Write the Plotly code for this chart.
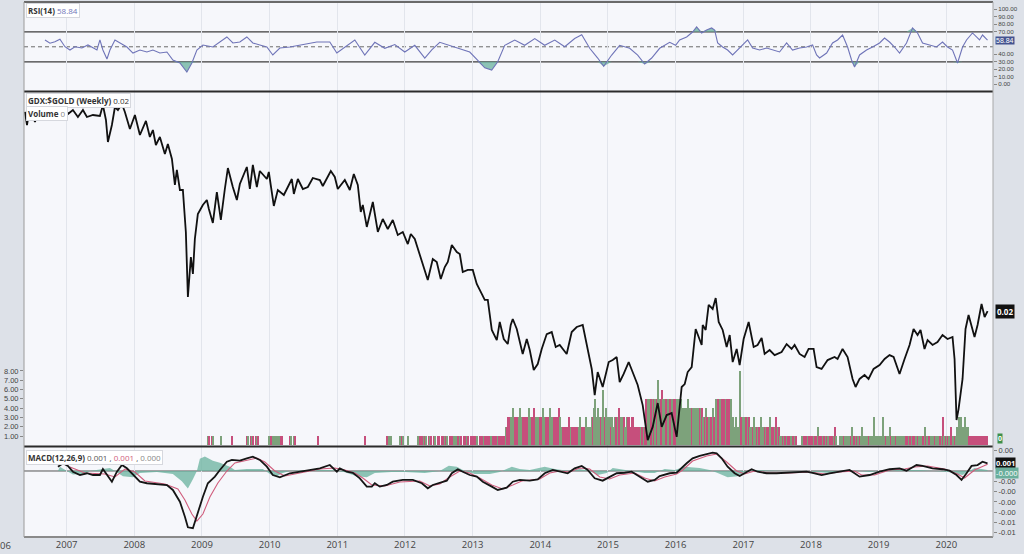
import numpy as np
import plotly.graph_objects as go

# ---------------- data ----------------
PRICE_T = [2006.384, 2006.414, 2006.458, 2006.532, 2006.606, 2006.709, 2006.798, 2006.946,
           2007.019, 2007.093, 2007.167, 2007.241, 2007.300, 2007.389, 2007.492, 2007.536,
           2007.581, 2007.610, 2007.669, 2007.714, 2007.758, 2007.817, 2007.861, 2007.935,
           2008.009, 2008.083, 2008.172, 2008.230, 2008.275, 2008.319, 2008.378, 2008.452,
           2008.496, 2008.556, 2008.600, 2008.629, 2008.674, 2008.718, 2008.762, 2008.792,
           2008.836, 2008.866, 2008.895, 2008.939, 2009.013, 2009.072, 2009.102, 2009.161,
           2009.220, 2009.279, 2009.338, 2009.383, 2009.456, 2009.516, 2009.560, 2009.663,
           2009.708, 2009.752, 2009.811, 2009.855, 2009.959, 2009.988, 2010.062, 2010.121,
           2010.210, 2010.269, 2010.328, 2010.358, 2010.417, 2010.491, 2010.565, 2010.638,
           2010.742, 2010.786, 2010.904, 2010.963, 2011.007, 2011.111, 2011.185, 2011.244,
           2011.303, 2011.347, 2011.377, 2011.436, 2011.525, 2011.599, 2011.672, 2011.746,
           2011.820, 2011.894, 2011.968, 2012.042, 2012.086, 2012.145, 2012.219, 2012.263,
           2012.337, 2012.411, 2012.470, 2012.529, 2012.588, 2012.633, 2012.692, 2012.766,
           2012.810, 2012.854, 2012.928, 2013.002, 2013.061, 2013.135, 2013.179, 2013.224,
           2013.283, 2013.357, 2013.401, 2013.460, 2013.519, 2013.563, 2013.593, 2013.652,
           2013.696, 2013.740, 2013.800, 2013.844, 2013.903, 2013.962, 2014.021, 2014.095,
           2014.169, 2014.228, 2014.287, 2014.390, 2014.464, 2014.538, 2014.627, 2014.686,
           2014.760, 2014.804, 2014.848, 2014.922, 2015.011, 2015.070, 2015.129, 2015.173,
           2015.232, 2015.306, 2015.351, 2015.439, 2015.513, 2015.587, 2015.661, 2015.735,
           2015.794, 2015.868, 2015.941, 2016.015, 2016.089, 2016.134, 2016.178, 2016.237,
           2016.296, 2016.385, 2016.400, 2016.444, 2016.488, 2016.547, 2016.592, 2016.636,
           2016.695, 2016.754, 2016.799, 2016.843, 2016.902, 2016.946, 2017.005, 2017.079,
           2017.153, 2017.211, 2017.271, 2017.315, 2017.389, 2017.463, 2017.566, 2017.640,
           2017.714, 2017.758, 2017.832, 2017.906, 2017.965, 2018.039, 2018.083, 2018.157,
           2018.246, 2018.349, 2018.393, 2018.467, 2018.541, 2018.615, 2018.659, 2018.718,
           2018.792, 2018.851, 2018.925, 2019.014, 2019.088, 2019.161, 2019.221, 2019.309,
           2019.383, 2019.457, 2019.516, 2019.575, 2019.619, 2019.678, 2019.723, 2019.797,
           2019.870, 2019.944, 2020.018, 2020.092, 2020.122, 2020.151, 2020.181, 2020.240,
           2020.284, 2020.329, 2020.417, 2020.462, 2020.521, 2020.566, 2020.610]
PRICE_V = [0.04814, 0.04549, 0.04919, 0.04609, 0.04919, 0.04710, 0.04919, 0.04984,
           0.04772, 0.04856, 0.04710, 0.04856, 0.04710, 0.04751, 0.04730, 0.04962,
           0.04649, 0.04225, 0.04549, 0.04919, 0.04856, 0.04984, 0.04814, 0.04470,
           0.04751, 0.04355, 0.04629, 0.04318, 0.04451, 0.04170, 0.04318, 0.04010,
           0.04188, 0.03924, 0.03505, 0.03741, 0.03429, 0.03429, 0.02857, 0.02153,
           0.02562, 0.02380, 0.02771, 0.03089, 0.03213, 0.03283, 0.03157, 0.02971,
           0.03399, 0.03010, 0.03444, 0.03773, 0.03474, 0.03283, 0.03520, 0.03790,
           0.03444, 0.03823, 0.03474, 0.03724, 0.03597, 0.03708, 0.03199, 0.03429,
           0.03355, 0.03474, 0.03597, 0.03370, 0.03597, 0.03444, 0.03474, 0.03613,
           0.03581, 0.03489, 0.03724, 0.03629, 0.03444, 0.03581, 0.03429, 0.03676,
           0.03505, 0.03116, 0.03213, 0.02920, 0.03255, 0.02857, 0.03023, 0.02894,
           0.03010, 0.02820, 0.02857, 0.02711, 0.02832, 0.02771, 0.02585, 0.02486,
           0.02319, 0.02540, 0.02507, 0.02329, 0.02453, 0.02507, 0.02700, 0.02619,
           0.02596, 0.02401, 0.02422, 0.02422, 0.02279, 0.02182, 0.02126, 0.02126,
           0.01866, 0.01786, 0.01932, 0.01794, 0.01755, 0.01907, 0.01957, 0.01874,
           0.01786, 0.01681, 0.01794, 0.01710, 0.01568, 0.01609, 0.01718, 0.01833,
           0.01849, 0.01733, 0.01748, 0.01681, 0.01849, 0.01890, 0.01907, 0.01748,
           0.01575, 0.01406, 0.01554, 0.01456, 0.01623, 0.01637, 0.01659, 0.01488,
           0.01541, 0.01623, 0.01568, 0.01469, 0.01346, 0.01156, 0.01224, 0.01358,
           0.01224, 0.01289, 0.01300, 0.01172, 0.01456, 0.01475, 0.01554, 0.01588,
           0.01874, 0.01748, 0.01907, 0.01866, 0.02080, 0.02044, 0.02144, 0.01932,
           0.01866, 0.01733, 0.01825, 0.01623, 0.01718, 0.01602, 0.01794, 0.01932,
           0.01733, 0.01748, 0.01802, 0.01681, 0.01710, 0.01673, 0.01695, 0.01755,
           0.01718, 0.01748, 0.01681, 0.01659, 0.01718, 0.01718, 0.01588, 0.01575,
           0.01637, 0.01659, 0.01645, 0.01718, 0.01659, 0.01508, 0.01456, 0.01508,
           0.01534, 0.01508, 0.01575, 0.01602, 0.01645, 0.01673, 0.01659, 0.01541,
           0.01645, 0.01748, 0.01874, 0.01825, 0.01866, 0.01718, 0.01786, 0.01748,
           0.01771, 0.01825, 0.01794, 0.01810, 0.01645, 0.01261, 0.01323, 0.01508,
           0.01874, 0.01991, 0.01810, 0.01907, 0.02089, 0.01974, 0.02026]

RSI_T = [2006.680, 2006.754, 2006.827, 2006.901, 2006.975, 2007.049, 2007.123, 2007.226,
         2007.315, 2007.448, 2007.492, 2007.536, 2007.596, 2007.640, 2007.714, 2007.788,
         2007.891, 2007.980, 2008.083, 2008.186, 2008.275, 2008.378, 2008.482, 2008.570,
         2008.674, 2008.777, 2008.851, 2008.925, 2009.014, 2009.161, 2009.265, 2009.368,
         2009.457, 2009.560, 2009.663, 2009.752, 2009.855, 2009.959, 2010.047, 2010.151,
         2010.299, 2010.446, 2010.594, 2010.697, 2010.786, 2010.889, 2010.993, 2011.111,
         2011.259, 2011.406, 2011.554, 2011.702, 2011.850, 2011.997, 2012.145, 2012.293,
         2012.396, 2012.514, 2012.662, 2012.810, 2012.957, 2013.076, 2013.179, 2013.282,
         2013.371, 2013.474, 2013.622, 2013.770, 2013.918, 2014.065, 2014.213, 2014.361,
         2014.508, 2014.612, 2014.730, 2014.848, 2014.937, 2015.055, 2015.173, 2015.321,
         2015.439, 2015.542, 2015.646, 2015.764, 2015.912, 2016.000, 2016.059, 2016.163,
         2016.251, 2016.310, 2016.384, 2016.458, 2016.532, 2016.576, 2016.621, 2016.694,
         2016.768, 2016.842, 2016.916, 2016.990, 2017.064, 2017.138, 2017.241, 2017.344,
         2017.433, 2017.536, 2017.640, 2017.728, 2017.832, 2017.935, 2018.024, 2018.083,
         2018.127, 2018.231, 2018.319, 2018.393, 2018.467, 2018.541, 2018.600, 2018.644,
         2018.718, 2018.821, 2018.910, 2019.014, 2019.087, 2019.161, 2019.235, 2019.309,
         2019.412, 2019.501, 2019.575, 2019.649, 2019.752, 2019.856, 2019.944, 2020.018,
         2020.092, 2020.166, 2020.240, 2020.299, 2020.387, 2020.491, 2020.535, 2020.609]
RSI_V = [59.1, 54.7, 56.8, 60.0, 50.1, 45.7, 50.1, 48.4,
         52.4, 45.7, 59.1, 45.7, 33.7, 45.7, 59.1, 55.1,
         49.7, 41.7, 45.7, 43.1, 45.7, 41.7, 43.1, 32.4,
         28.4, 16.4, 28.4, 45.7, 52.4, 49.7, 56.4, 63.1,
         55.1, 56.4, 63.1, 55.1, 52.4, 49.7, 39.1, 48.4,
         49.7, 52.4, 55.1, 56.4, 56.4, 56.4, 41.7, 49.7,
         59.0, 39.0, 56.0, 48.0, 53.0, 43.0, 52.0, 35.0,
         46.0, 56.0, 52.0, 48.0, 43.0, 32.0, 22.0, 19.0,
         30.0, 52.0, 59.0, 52.0, 61.0, 52.0, 59.0, 50.0,
         61.0, 66.0, 48.0, 35.0, 24.0, 39.0, 52.0, 48.0,
         39.0, 27.0, 35.0, 48.0, 56.0, 52.0, 59.1, 63.1,
         69.7, 76.4, 68.4, 72.4, 75.1, 72.4, 55.1, 49.7,
         45.7, 39.1, 45.7, 52.4, 59.1, 48.4, 45.7, 48.4,
         45.7, 43.1, 55.1, 45.7, 48.4, 49.7, 52.4, 39.1,
         35.1, 41.7, 55.1, 59.1, 65.7, 49.7, 32.4, 23.1,
         39.1, 45.7, 49.7, 55.1, 61.7, 56.4, 49.7, 41.7,
         55.1, 75.1, 68.4, 55.1, 52.4, 49.7, 56.4, 49.7,
         45.7, 28.4, 49.7, 59.1, 68.4, 59.1, 65.7, 58.84]

MACD_T = [2006.872, 2006.946, 2007.019, 2007.093, 2007.197, 2007.300, 2007.389, 2007.492,
          2007.536, 2007.596, 2007.669, 2007.743, 2007.817, 2007.891, 2007.980, 2008.083,
          2008.186, 2008.334, 2008.482, 2008.570, 2008.674, 2008.748, 2008.792, 2008.866,
          2008.940, 2009.014, 2009.087, 2009.191, 2009.265, 2009.368, 2009.442, 2009.560,
          2009.663, 2009.752, 2009.855, 2009.959, 2010.047, 2010.151, 2010.299, 2010.446,
          2010.594, 2010.742, 2010.889, 2010.993, 2011.037, 2011.141, 2011.229, 2011.333,
          2011.436, 2011.510, 2011.554, 2011.628, 2011.732, 2011.820, 2011.968, 2012.116,
          2012.249, 2012.337, 2012.411, 2012.514, 2012.618, 2012.692, 2012.781, 2012.854,
          2012.957, 2013.061, 2013.150, 2013.283, 2013.371, 2013.504, 2013.593, 2013.696,
          2013.844, 2013.962, 2014.065, 2014.184, 2014.317, 2014.405, 2014.508, 2014.612,
          2014.700, 2014.804, 2014.922, 2015.025, 2015.129, 2015.247, 2015.350, 2015.469,
          2015.587, 2015.690, 2015.764, 2015.912, 2016.015, 2016.163, 2016.251, 2016.355,
          2016.458, 2016.547, 2016.606, 2016.680, 2016.768, 2016.872, 2016.946, 2017.049,
          2017.123, 2017.211, 2017.344, 2017.492, 2017.640, 2017.787, 2017.935, 2018.054,
          2018.157, 2018.275, 2018.423, 2018.570, 2018.644, 2018.718, 2018.866, 2019.014,
          2019.161, 2019.309, 2019.412, 2019.560, 2019.649, 2019.797, 2019.944, 2020.048,
          2020.151, 2020.225, 2020.299, 2020.373, 2020.461, 2020.535, 2020.609]
MACD_V = [0.00042, 0.00075, 0.00049, -0.00007, -0.00039, -0.00022, -0.00039, -0.00039,
          0.00019, -0.00039, -0.00104, -0.00007, 0.00058, 0.00026, -0.00039, -0.00104,
          -0.00119, -0.00126, -0.00136, -0.00184, -0.00298, -0.00444, -0.00547, -0.00556,
          -0.00395, -0.00250, -0.00119, -0.00055, 0.00010, 0.00090, 0.00107, 0.00100,
          0.00123, 0.00139, 0.00107, 0.00042, -0.00039, -0.00061, -0.00022, -0.00007,
          0.00010, 0.00026, 0.00058, -0.00007, 0.00026, -0.00007, -0.00017, -0.00071,
          -0.00152, -0.00152, -0.00119, -0.00152, -0.00136, -0.00104, -0.00087, -0.00087,
          -0.00119, -0.00168, -0.00136, -0.00114, -0.00094, -0.00022, 0.00017, -0.00007,
          -0.00039, -0.00055, -0.00104, -0.00152, -0.00184, -0.00162, -0.00104, -0.00087,
          -0.00094, -0.00081, -0.00022, 0.00010, -0.00007, -0.00022, 0.00026, 0.00049,
          0.00010, -0.00071, -0.00094, -0.00055, -0.00022, -0.00017, -0.00007, -0.00055,
          -0.00104, -0.00087, -0.00049, -0.00022, -0.00017, 0.00075, 0.00123, 0.00146,
          0.00165, 0.00178, 0.00172, 0.00123, 0.00042, -0.00022, -0.00049, -0.00007,
          0.00017, -0.00007, -0.00022, -0.00022, -0.00017, -0.00007, -0.00007, -0.00022,
          -0.00039, -0.00022, -0.00007, 0.00010, -0.00022, -0.00055, -0.00039, -0.00007,
          0.00017, 0.00026, 0.00003, 0.00058, 0.00049, 0.00026, 0.00017, 0.00003,
          -0.00039, -0.00087, -0.00022, 0.00049, 0.00058, 0.00090, 0.00075]

SIGNAL_T = [2007.049, 2007.271, 2007.566, 2007.714, 2007.861, 2008.009, 2008.157, 2008.452,
            2008.644, 2008.748, 2008.851, 2008.925, 2009.014, 2009.117, 2009.235, 2009.368,
            2009.486, 2009.663, 2009.811, 2009.929, 2010.077, 2010.225, 2010.446, 2010.742,
            2010.963, 2011.111, 2011.259, 2011.377, 2011.510, 2011.702, 2011.923, 2012.219,
            2012.367, 2012.514, 2012.662, 2012.810, 2012.957, 2013.105, 2013.283, 2013.445,
            2013.593, 2013.726, 2013.992, 2014.139, 2014.287, 2014.434, 2014.582, 2014.730,
            2014.878, 2015.025, 2015.173, 2015.395, 2015.542, 2015.690, 2015.838, 2016.015,
            2016.104, 2016.251, 2016.458, 2016.606, 2016.754, 2016.902, 2017.020, 2017.167,
            2017.389, 2017.684, 2017.980, 2018.201, 2018.423, 2018.644, 2018.748, 2018.940,
            2019.161, 2019.383, 2019.531, 2019.723, 2019.974, 2020.166, 2020.270, 2020.417,
            2020.609]
SIGNAL_V = [0.00039, -0.00019, -0.00029, -0.00058, 0.00019, -0.00010, -0.00097, -0.00126,
            -0.00175, -0.00282, -0.00418, -0.00486, -0.00418, -0.00252, -0.00117, 0.00000,
            0.00078, 0.00107, 0.00126, 0.00087, 0.00000, -0.00049, -0.00019, 0.00019,
            0.00029, 0.00010, -0.00019, -0.00068, -0.00136, -0.00146, -0.00107, -0.00097,
            -0.00146, -0.00126, -0.00058, 0.00000, -0.00019, -0.00068, -0.00136, -0.00175,
            -0.00136, -0.00097, -0.00078, -0.00019, 0.00000, -0.00010, 0.00029, 0.00019,
            -0.00058, -0.00078, -0.00039, -0.00019, -0.00068, -0.00097, -0.00058, -0.00029,
            0.00010, 0.00097, 0.00146, 0.00165, 0.00087, 0.00000, -0.00029, 0.00000,
            -0.00019, -0.00019, -0.00010, -0.00029, -0.00010, 0.00000, -0.00039, -0.00039,
            0.00010, 0.00019, 0.00039, 0.00049, 0.00019, -0.00029, -0.00068, 0.00010,
            0.00065]

HIST_T = [2006.872, 2006.900, 2007.004, 2007.093, 2007.241, 2007.345, 2007.536, 2007.640,
          2007.714, 2007.832, 2007.980, 2008.083, 2008.334, 2008.570, 2008.703, 2008.792,
          2008.866, 2008.925, 2008.969, 2009.043, 2009.161, 2009.265, 2009.412, 2009.486,
          2009.663, 2009.900, 2010.003, 2010.106, 2010.195, 2010.299, 2010.600, 2010.900,
          2011.100, 2011.288, 2011.436, 2011.554, 2011.800, 2012.000, 2012.293, 2012.514,
          2012.648, 2012.766, 2012.884, 2013.031, 2013.253, 2013.401, 2013.578, 2013.696,
          2013.844, 2014.065, 2014.213, 2014.434, 2014.582, 2014.730, 2014.848, 2014.981,
          2015.070, 2015.173, 2015.350, 2015.542, 2015.690, 2015.838, 2015.986, 2016.133,
          2016.355, 2016.503, 2016.621, 2016.768, 2016.916, 2017.020, 2017.150, 2017.700,
          2018.054, 2018.275, 2018.570, 2018.870, 2019.161, 2019.600, 2020.030, 2020.166,
          2020.240, 2020.314, 2020.417, 2020.521, 2020.609]
HIST_V = [0.0, 0.0004, 0.0, -0.00034, -0.00029, 0.0, 0.0002, 0.0003,
          0.0, -0.0005, -0.0006, -0.0002, -0.0001, -0.0003, -0.0010, -0.0017,
          -0.0008, 0.0, 0.0012, 0.0014, 0.0010, 0.0008, 0.0004, 0.0001,
          0.0002, 0.0002, -0.0003, -0.0005, -0.0002, 0.0, 0.0001, 0.0001,
          -0.0001, -0.0005, -0.0006, -0.0002, -0.0001, -0.0001, -0.0002, 0.0,
          0.0005, 0.0004, 0.0, -0.0003, -0.0003, -0.0001, 0.0004, 0.0002,
          0.0001, 0.0004, 0.0002, 0.0, 0.0002, 0.0, -0.0004, -0.0002,
          0.0003, 0.0002, 0.0, -0.0002, -0.0002, 0.0002, 0.0001, 0.0004,
          0.0003, 0.0001, -0.0002, -0.0006, -0.0005, -0.0001, 0.0001, 0.0,
          -0.0001, -0.0002, 0.0001, -0.0001, 0.0001, 0.0001, -0.0001, -0.0003,
          -0.0004, -0.0001, 0.0003, 0.0002, 0.0001]

# weekly volume, one string per year (one digit per week), starting with 2009
VOLUME_WEEKS = {
    2009: "0000" "11011" "00000" "1" "00000000" "1" "0000000000" "1101110111" "0000000" "1",
    2010: "11101101110" "0000" "11011" "00000000000000000" "1" "00000000000000",
    2011: "000000000000000000000" "1" "0000000000000000" "1101" "000000" "111" "0",
    2012: "00" "1" "0000000" "1101111011101101101" "11110111101111101111011",
    2013: "1111011111111111111111111" "22" "3333433334333333433343333",
    2014: "3343333433333343" "22222232222222322223222" "3345343336343",
    2015: "332323334233323332332" "22222222" "55555555575565555555555",
    2016: "55555" "4444544444444444" "3343333433" "555555555555" "332322" "8" "33",
    2017: "33333" "22232222322222232222322" "1111111111111" "0000" "1111111",
    2018: "11111211111111111121" "00" "111111111211111112111111113111",
    2019: "111" "3" "1111" "2" "11111111111111111111111111" "2" "1111111111111" "3" "11",
    2020: "11121111" "232322322" "111111111111111",
}
# bar colour per week: p = pink (down), g = green (up)
VOLUME_COLOURS = {
    2009: "ppgpgpgpggpgppgpgppgpgppgpgpgpgppgpggpgpgpgpgpgppgpg",
    2010: "gpgpggpgppgpgpgpgggpgpgpgppgpgpgpgppgpgpgpgpgpgpgpgp",
    2011: "pgpgpgpgpgppgpgpgpgpgpgpgpgppgpgpgpgpgpgpgpgppgpgpgp",
    2012: "ppgpgppgppgpppgpgppgpppgpppgppgpgppppgpgppgppppgpgpp",
    2013: "pppgppppgpppppgppppgpppppgpppgggpppgggpppppggpppgggp",
    2014: "ppggpppgggpppppggppppppgpppppgggpppgggggpgggggpggpgg",
    2015: "ggpgggpgppggpggppppppppppgpgppgggpgpgpggppggppgppgpp",
    2016: "pgggggggggggpgggggpgpgpgpggpgppgppgpppgpppggggggggpg",
    2017: "ggpgpggpggpgpgggpgppggppgpgpggpgpgppggpgpgggpgpppgpp",
    2018: "ppgppgpppgpgpgpppgpgppgggpggggpggpgpgpggggggpgggggg",
    2019: "gggggpgggpgggpgggggggppgpgppggpgggpgpgppgggpgggpgpgp",
    2020: "gpgppgpggggggggggppppppppppppppp",
}

RSI_LAST, PRICE_LAST, MACD_LAST = "58.84", "0.02", "0.001"
YEARS = list(range(2007, 2021))

# ---------------- styles ----------------
FONT = "Open Sans, Noto Sans, sans-serif"
TICKFONT = "Liberation Sans, Arial, sans-serif"
PINK = "#c64f7c"
GREEN = "#7da27b"
TEAL = "rgba(104,178,158,0.75)"
RSI_COL = "#6f74b8"
OUTER = "#dde1e8"
INNER = "#f6f7fb"

vol_t, vol_v, vol_c = [], [], []
for yr in sorted(VOLUME_WEEKS):
    s = VOLUME_WEEKS[yr][:52]
    c = VOLUME_COLOURS[yr].ljust(len(s), "g")
    for i, ch in enumerate(s):
        if ch != "0":
            vol_t.append(yr + (i + 0.5) / 52)
            vol_v.append(int(ch))
            vol_c.append(PINK if c[i] == "p" else GREEN)

rsi = np.array(RSI_V)

fig = go.Figure()

# volume (base axis of the main panel)
fig.add_trace(go.Bar(x=vol_t, y=vol_v, width=1 / 52, marker=dict(color=vol_c, line=dict(width=0)),
                     xaxis="x", yaxis="y2", hoverinfo="skip"))
# price ratio (log axis overlaying the volume)
fig.add_trace(go.Scatter(x=PRICE_T, y=PRICE_V, mode="lines", line=dict(color="#111111", width=1.8),
                         xaxis="x", yaxis="y3"))

# RSI fills beyond 30 / 70
fig.add_trace(go.Scatter(x=RSI_T, y=[30] * len(RSI_T), mode="lines", line=dict(width=0),
                         xaxis="x", yaxis="y4", hoverinfo="skip"))
fig.add_trace(go.Scatter(x=RSI_T, y=np.minimum(rsi, 30), mode="lines", line=dict(width=0),
                         fill="tonexty", fillcolor=TEAL, xaxis="x", yaxis="y4", hoverinfo="skip"))
fig.add_trace(go.Scatter(x=RSI_T, y=[70] * len(RSI_T), mode="lines", line=dict(width=0),
                         xaxis="x", yaxis="y4", hoverinfo="skip"))
fig.add_trace(go.Scatter(x=RSI_T, y=np.maximum(rsi, 70), mode="lines", line=dict(width=0),
                         fill="tonexty", fillcolor=TEAL, xaxis="x", yaxis="y4", hoverinfo="skip"))
fig.add_trace(go.Scatter(x=RSI_T, y=RSI_V, mode="lines", line=dict(color=RSI_COL, width=1.1),
                         xaxis="x", yaxis="y4"))

# MACD
fig.add_trace(go.Scatter(x=HIST_T, y=HIST_V, mode="lines", line=dict(width=0), fill="tozeroy",
                         fillcolor=TEAL, xaxis="x", yaxis="y"))
fig.add_trace(go.Scatter(x=SIGNAL_T, y=SIGNAL_V, mode="lines", line=dict(color="#d05c7c", width=1.1),
                         xaxis="x", yaxis="y"))
fig.add_trace(go.Scatter(x=MACD_T, y=MACD_V, mode="lines", line=dict(color="#151515", width=1.8),
                         xaxis="x", yaxis="y"))

# ---------------- layout ----------------
W, H = 1024, 554
ML, MR, MT, MB = 24, 31, 2, 17
PH = H - MT - MB


def py(ypix):
    return (H - MB - ypix) / PH


D_MACD = [0, py(447)]
D_MAIN = [py(446), py(92)]
D_RSI = [py(91), 1]

tickfont = dict(family=TICKFONT, size=7.5, color="#444")
rsitickfont = dict(family=TICKFONT, size=6.2, color="#444")
# the 0.001 and 0 ticks sit under the value badges, so only the visible ones are labelled
macd_vals = [0.002, -0.001, -0.002, -0.003, -0.004, -0.005, -0.006]
macd_text = ["0.00", "-0.00", "-0.00", "-0.00", "-0.00", "-0.01", "-0.01"]
rsi_vals = [0, 10, 20, 30, 40, 70, 80, 90, 100]

fig.update_layout(
    width=W, height=H, margin=dict(l=ML, r=MR, t=MT, b=MB),
    paper_bgcolor=OUTER, plot_bgcolor=INNER, showlegend=False, bargap=0,
    font=dict(family=FONT, color="#333"),
    xaxis=dict(range=[2006.37, 2020.69], tickvals=YEARS, ticktext=[str(y) for y in YEARS],
               showgrid=True, gridcolor="#e2e5ec", gridwidth=1, zeroline=False, showline=False,
               ticks="", tickfont=dict(family=FONT, size=9.5, color="#444"), anchor="y"),
    yaxis=dict(domain=D_MACD, range=[-0.00641, 0.00233], side="right", tickvals=macd_vals,
               ticktext=macd_text, ticks="outside", ticklen=3, tickcolor="#888",
               tickfont=tickfont, showgrid=False, zeroline=False, automargin=False, anchor="x"),
    yaxis2=dict(domain=D_MAIN, range=[-0.075, 38.03], side="left", tickvals=list(range(1, 9)),
                ticktext=["%.2f" % v for v in range(1, 9)], ticks="outside", ticklen=3,
                tickcolor="#888", tickfont=tickfont, showgrid=False, zeroline=False,
                automargin=False, anchor="x"),
    yaxis3=dict(overlaying="y2", type="log", range=[-1.9482, -1.2798], showticklabels=False,
                showgrid=False, zeroline=False, ticks="", side="right", anchor="x"),
    yaxis4=dict(domain=D_RSI, range=[-8.93, 109.7], side="right", tickvals=rsi_vals,
                ticktext=["%.2f" % v for v in rsi_vals], ticks="outside", ticklen=3,
                tickcolor="#888", tickfont=rsitickfont, showgrid=False, zeroline=False,
                automargin=False, anchor="x"),
)

shapes = []
# RSI levels
for lvl, dash, col, w in [(70, "solid", "#3c3c3c", 1.2), (30, "solid", "#3c3c3c", 1.2), (50, "4px,3px", "#6b6b6b", 1)]:
    shapes.append(dict(type="line", xref="paper", yref="y4", x0=0, x1=1, y0=lvl, y1=lvl,
                       line=dict(color=col, width=w, dash=dash), layer="below"))
# MACD zero line
shapes.append(dict(type="line", xref="paper", yref="y", x0=0, x1=1, y0=0, y1=0,
                   line=dict(color="#555", width=1), layer="below"))
# panel separators and frame
for ypix, col, w in [(2, "#6a6a6a", 2), (91.5, "#2b2b2b", 2), (446.5, "#2b2b2b", 2), (537, "#8a8a8a", 2)]:
    shapes.append(dict(type="line", xref="paper", yref="paper", x0=0, x1=1, y0=py(ypix), y1=py(ypix),
                       line=dict(color=col, width=w)))
shapes.append(dict(type="line", xref="paper", yref="paper", x0=0, x1=0, y0=0, y1=1,
                   line=dict(color="#9a9a9a", width=1)))
shapes.append(dict(type="line", xref="paper", yref="paper", x0=1, x1=1, y0=0, y1=1,
                   line=dict(color="#a8a8a8", width=1)))
fig.update_layout(shapes=shapes)

ann = []
small = dict(family=FONT, size=8, color="#333")
# panel captions
ann.append(dict(xref="paper", yref="paper", x=0.002, y=py(3), xanchor="left", yanchor="top",
                text="<b>RSI(14)</b> <span style='color:%s'>%s</span>" % (RSI_COL, RSI_LAST),
                showarrow=False, bgcolor="#ffffff", bordercolor="#d6d8de", borderwidth=1,
                borderpad=1, font=small))
ann.append(dict(xref="paper", yref="paper", x=0.002, y=py(93), xanchor="left", yanchor="top",
                text="<b>GDX:$GOLD (Weekly)</b> %s" % PRICE_LAST, showarrow=False, bgcolor="#ffffff",
                bordercolor="#d6d8de", borderwidth=1, borderpad=1, font=small))
ann.append(dict(xref="paper", yref="paper", x=0.002, y=py(106), xanchor="left", yanchor="top",
                text="<b>Volume</b> <span style='color:#888'>0</span>", showarrow=False,
                bgcolor="#ffffff", bordercolor="#d6d8de", borderwidth=1, borderpad=1, font=small))
ann.append(dict(xref="paper", yref="paper", x=0.002, y=py(450), xanchor="left", yanchor="top",
                text="<b>MACD(12,26,9)</b> <span style='color:#555'>0.001</span> , "
                     "<span style='color:%s'>0.001</span> , <span style='color:#888'>0.000</span>" % "#d05c7c",
                showarrow=False, bgcolor="#ffffff", bordercolor="#d6d8de", borderwidth=1,
                borderpad=1, font=small))
# value badges on the right
badge = dict(family=FONT, size=7.5, color="#ffffff")
ann.append(dict(xref="paper", yref="y4", x=1.002, y=float(RSI_LAST), xanchor="left", yanchor="middle",
                text=RSI_LAST, showarrow=False, bgcolor="#44538f", borderpad=0,
                font=dict(family=TICKFONT, size=7, color="#ffffff")))
ann.append(dict(xref="paper", yref="y3", x=1.002, y=float(np.log10(PRICE_V[-1])), xanchor="left",
                yanchor="middle", text="<b>%s</b>" % PRICE_LAST, showarrow=False, bgcolor="#111111",
                borderpad=1, font=dict(family=FONT, size=8, color="#ffffff")))
ann.append(dict(xref="paper", yref="y2", x=1.004, y=0.7, xanchor="left", yanchor="middle",
                text="<b>0</b>", showarrow=False, bgcolor="#3f8f4a", borderpad=0,
                font=dict(family=FONT, size=7, color="#ffffff")))
ann.append(dict(xref="paper", yref="y", x=1.002, y=0.0008, xanchor="left", yanchor="middle",
                text="<b>%s</b>" % MACD_LAST, showarrow=False, bgcolor="#111111", borderpad=0,
                font=badge))
ann.append(dict(xref="paper", yref="y", x=1.002, y=-0.00022, xanchor="left", yanchor="middle",
                text="-0.000", showarrow=False, bgcolor="#6aae9c", borderpad=0, font=badge))
# clipped 2006 label at the far left
ann.append(dict(xref="paper", yref="paper", x=(5 - ML) / (W - ML - MR), y=py(545), xanchor="center",
                yanchor="middle", text="06", showarrow=False,
                font=dict(family=FONT, size=9.5, color="#444")))
fig.update_layout(annotations=ann)

fig.write_html("out.html")
